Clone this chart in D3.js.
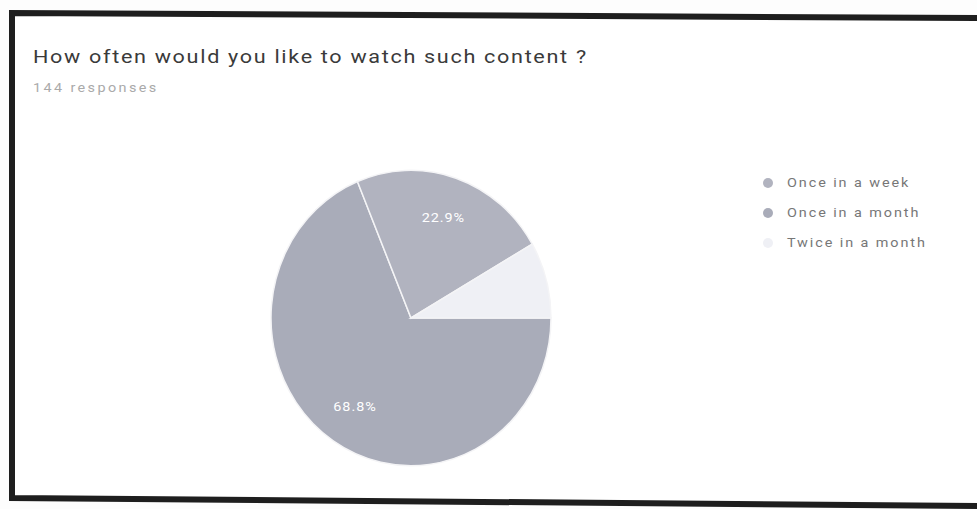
<!DOCTYPE html>
<html>
<head>
<meta charset="utf-8">
<script src="https://cdn.jsdelivr.net/npm/d3@7"></script>
<style>
body { margin: 0; background: #fdfdfd; }
svg { display: block; }
</style>
</head>
<body>
<div id="chart"></div>
<script>
(function(){
"use strict";

var title = "How often would you like to watch such content ?";
var subtitle = "144 responses";
// pie order clockwise from 3 o'clock
var categories = ["Once in a month", "Once in a week", "Twice in a month"];
var counts = [99, 33, 12];
var legendOrder = ["Once in a week", "Once in a month", "Twice in a month"];

var width = 977;
var height = 509;
var cx = 411, cy = 318, radius = 140;
var squash = 1.055; // scan is a bit taller than wide
var stretch = 1.2;  // and text comes out wide

var color = d3.scaleOrdinal()
	.domain(categories)
	.range(["#a9acb9", "#b1b3bf", "#eff0f5"]);

var svg = d3.select("#chart")
	.append("svg")
		.attr("width", width)
		.attr("height", height);

// frame of the scanned page
svg.append("path")
	.attr("d", "M977,18 L12,13 L12,498 L977,506")
	.attr("fill", "#fff")
	.attr("stroke", "#1e1e1e")
	.attr("stroke-width", 6);

svg.append("text")
	.attr("transform", "translate(33,63) scale(" + stretch + ",1)")
	.attr("font-family", "Roboto, Arial, sans-serif")
	.attr("font-size", 18)
	.attr("letter-spacing", 1.4)
	.attr("fill", "#3a3a3a")
	.text(title);

svg.append("text")
	.attr("transform", "translate(33,92) scale(" + stretch + ",1)")
	.attr("font-family", "Roboto, Arial, sans-serif")
	.attr("font-size", 12)
	.attr("letter-spacing", 2)
	.attr("fill", "#aaa")
	.text(subtitle);

var total = d3.sum(counts);
var pie = d3.pie()
	.sort(null)
	.startAngle(Math.PI / 2)
	.endAngle(Math.PI / 2 + 2 * Math.PI);
var arc = d3.arc().innerRadius(0).outerRadius(radius);

var arcs = pie(counts);
var g = svg.append("g")
	.attr("transform", "translate(" + cx + "," + cy + ") scale(1," + squash + ")");

g.selectAll("path")
	.data(arcs)
	.enter()
	.append("path")
		.attr("d", arc)
		.attr("fill", function(d, i){ return color(categories[i]); })
		.attr("stroke", "#f4f4f6")
		.attr("stroke-width", 1.5);

var labelArc = d3.arc().innerRadius(radius * 0.72).outerRadius(radius * 0.72);
g.selectAll("text")
	.data(arcs.filter(function(d){ return d.value / total > 0.1; }))
	.enter()
	.append("text")
		.attr("transform", function(d){
			var c = labelArc.centroid(d);
			return "translate(" + c[0] + "," + c[1] + ") scale(" + stretch + ",1)";
		})
		.attr("text-anchor", "middle")
		.attr("dy", "0.35em")
		.attr("font-family", "Roboto, Arial, sans-serif")
		.attr("font-size", 12)
		.attr("letter-spacing", 0.8)
		.attr("fill", "#fff")
		.text(function(d){ return (d.value / total * 100).toFixed(1) + "%"; });

var legend = svg.append("g")
	.attr("transform", "translate(763,177)");

var item = legend.selectAll("g")
	.data(legendOrder)
	.enter()
	.append("g")
		.attr("transform", function(d, i){ return "translate(0," + (i * 30) + ")"; });

item.append("circle")
	.attr("cx", 5)
	.attr("cy", 6)
	.attr("r", 5)
	.attr("fill", function(d){ return color(d); });

item.append("text")
	.attr("transform", "translate(24,6) scale(" + stretch + ",1)")
	.attr("dy", "0.35em")
	.attr("font-family", "Roboto, Arial, sans-serif")
	.attr("font-size", 12)
	.attr("letter-spacing", 1.6)
	.attr("fill", "#777")
	.text(function(d){ return d; });

})();
</script>
</body>
</html>
